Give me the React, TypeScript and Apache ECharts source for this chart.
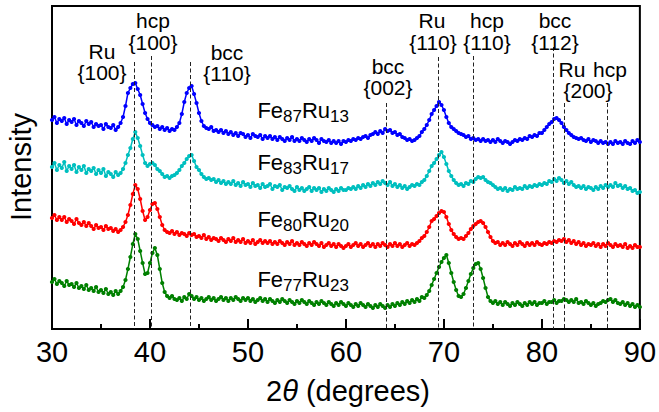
import React, { useEffect, useRef } from "react";
import * as echarts from "echarts";

// 2θ sampling grid (degrees), 0.25° steps from 30 to 90
const thetaStart = 30;
const thetaStep = 0.25;

// Intensities (arbitrary units, offset traces)
const fe87ru13: number[] = [
  209, 212, 206, 210, 208, 211, 205, 209, 207, 210, 204, 208, 206, 203, 208, 205,
  207, 202, 205, 203, 204, 200, 205, 202, 201, 204, 199, 202, 206, 212, 223, 236,
  241, 245, 246, 240, 234, 225, 216, 210, 206, 204, 202, 203, 200, 202, 199, 201,
  198, 200, 199, 202, 206, 215, 227, 236, 241, 243, 235, 226, 216, 208, 203, 201,
  200, 202, 198, 199, 197, 199, 196, 198, 195, 197, 194, 196, 193, 196, 195, 192,
  194, 191, 195, 193, 192, 194, 190, 193, 191, 193, 190, 192, 189, 192, 190, 188,
  191, 189, 192, 188, 190, 188, 191, 189, 187, 190, 188, 191, 189, 186, 190, 188,
  187, 189, 186, 188, 186, 188, 185, 188, 187, 189, 188, 190, 189, 191, 190, 192,
  193, 191, 194, 195, 197, 195, 198, 196, 200, 198, 199, 196, 197, 194, 195, 192,
  191, 189, 190, 188, 189, 191, 193, 197, 200, 204, 209, 215, 219, 223, 227, 224,
  219, 212, 206, 202, 200, 198, 196, 195, 194, 192, 193, 190, 191, 189, 190, 188,
  190, 188, 189, 187, 189, 187, 190, 188, 186, 188, 187, 185, 187, 189, 188, 190,
  189, 191, 190, 193, 192, 194, 193, 196, 196, 199, 202, 205, 207, 210, 211, 209,
  206, 202, 199, 196, 194, 192, 191, 190, 191, 189, 188, 190, 187, 189, 188, 186,
  188, 186, 187, 185, 187, 185, 188, 186, 187, 185, 188, 186, 185, 188, 186, 189,
  187,
];

const fe83ru17: number[] = [
  162, 166, 159, 164, 161, 167, 158, 163, 160, 164, 157, 162, 159, 163, 156, 160,
  158, 161, 155, 159, 156, 160, 153, 157, 155, 152, 157, 154, 156, 160, 166, 174,
  181, 190, 197, 191, 183, 174, 166, 163, 165, 166, 164, 160, 158, 155, 152, 153,
  151, 153, 154, 156, 159, 163, 166, 170, 173, 174, 168, 162, 159, 155, 152, 150,
  151, 149, 150, 147, 149, 146, 148, 145, 147, 145, 148, 144, 146, 143, 147, 144,
  145, 142, 146, 143, 144, 141, 145, 142, 143, 145, 140, 143, 142, 144, 139, 142,
  141, 143, 140, 138, 142, 139, 141, 138, 140, 142, 138, 141, 139, 141, 137, 140,
  138, 141, 139, 137, 140, 138, 141, 139, 139, 141, 140, 142, 140, 143, 141, 144,
  142, 145, 143, 146, 144, 147, 145, 148, 146, 144, 147, 143, 145, 142, 144, 141,
  143, 140, 142, 144, 143, 145, 144, 147, 149, 153, 158, 163, 166, 170, 174, 177,
  172, 165, 158, 153, 149, 146, 144, 145, 143, 146, 145, 148, 147, 150, 152, 151,
  152, 149, 147, 146, 144, 142, 140, 141, 139, 141, 138, 140, 139, 142, 140, 141,
  140, 143, 141, 143, 142, 144, 143, 145, 144, 146, 145, 148, 147, 150, 148, 151,
  149, 146, 148, 145, 147, 144, 142, 143, 141, 143, 140, 142, 141, 139, 142, 140,
  143, 141, 144, 142, 144, 142, 146, 143, 144, 141, 143, 140, 141, 138, 139, 136,
  137,
];

const fe80ru20: number[] = [
  111, 114, 109, 112, 109, 112, 107, 110, 108, 105, 110, 106, 104, 107, 103, 106,
  103, 100, 104, 101, 102, 99, 103, 100, 101, 98, 100, 97, 99, 102, 107, 114,
  124, 135, 144, 140, 130, 118, 109, 112, 119, 125, 126, 120, 112, 104, 99, 97,
  96, 98, 95, 97, 94, 96, 95, 93, 96, 94, 95, 92, 93, 91, 94, 90,
  92, 89, 91, 90, 88, 91, 89, 87, 90, 88, 91, 87, 89, 87, 90, 86,
  88, 86, 89, 85, 87, 89, 86, 88, 86, 88, 85, 87, 85, 88, 86, 84,
  87, 85, 88, 84, 86, 84, 87, 85, 83, 86, 84, 87, 85, 83, 86, 82,
  84, 86, 83, 85, 82, 85, 83, 81, 83, 85, 82, 84, 86, 83, 85, 82,
  84, 86, 83, 85, 82, 85, 83, 86, 84, 82, 85, 83, 86, 83, 85, 82,
  84, 86, 83, 85, 84, 86, 88, 91, 93, 97, 102, 108, 110, 113, 116, 118,
  117, 112, 105, 99, 95, 92, 90, 91, 90, 93, 96, 100, 103, 105, 107, 108,
  106, 102, 97, 92, 88, 86, 87, 84, 86, 84, 87, 85, 83, 86, 84, 87,
  85, 83, 86, 84, 86, 84, 87, 85, 84, 86, 85, 87, 86, 88, 87, 89,
  88, 90, 87, 89, 86, 88, 85, 87, 84, 86, 83, 85, 84, 86, 83, 85,
  82, 85, 83, 86, 84, 82, 85, 83, 84, 82, 85, 81, 83, 81, 84, 82,
  82,
];

const fe77ru23: number[] = [
  47, 50, 45, 48, 46, 43, 48, 44, 45, 42, 46, 41, 43, 40, 44, 39,
  41, 38, 42, 37, 39, 36, 40, 35, 37, 34, 38, 35, 38, 42, 49, 60,
  72, 85, 95, 90, 78, 66, 55, 56, 66, 76, 81, 74, 60, 46, 37, 33,
  31, 33, 30, 29, 31, 28, 32, 30, 35, 33, 30, 32, 29, 31, 28, 30,
  32, 29, 31, 28, 30, 32, 29, 31, 28, 31, 29, 32, 30, 28, 31, 29,
  31, 28, 30, 27, 29, 31, 28, 30, 27, 30, 28, 26, 29, 27, 30, 28,
  26, 29, 27, 25, 28, 26, 29, 27, 25, 28, 26, 24, 27, 25, 28, 26,
  24, 27, 25, 23, 26, 24, 27, 25, 23, 26, 24, 22, 25, 23, 26, 24,
  22, 25, 23, 21, 24, 22, 25, 23, 21, 24, 22, 25, 23, 26, 24, 27,
  25, 28, 26, 29, 27, 30, 28, 32, 31, 34, 38, 44, 50, 56, 62, 67,
  71, 74, 66, 56, 47, 39, 33, 32, 35, 41, 48, 55, 61, 65, 66, 60,
  51, 41, 32, 28, 26, 28, 25, 27, 24, 27, 25, 23, 26, 24, 27, 25,
  23, 26, 24, 27, 25, 27, 24, 26, 26, 28, 25, 27, 27, 29, 26, 28,
  28, 30, 29, 27, 29, 27, 30, 26, 27, 25, 28, 26, 24, 26, 23, 25,
  26, 28, 27, 29, 30, 27, 29, 26, 25, 27, 24, 26, 23, 25, 22, 24,
  22,
];

const seriesNames = ["Fe87Ru13", "Fe83Ru17", "Fe80Ru20", "Fe77Ru23"];
const seriesColors = ["#0000ff", "#00bfbf", "#ff0000", "#008000"];
const seriesValues = [fe87ru13, fe83ru17, fe80ru20, fe77ru23];
const seriesSubscripts = [["87", "13"], ["83", "17"], ["80", "20"], ["77", "23"]];

// Reference reflections: position (2θ) and top of the dashed marker (intensity units)
const refPositions = [38.4, 40.1, 44.1, 64.1, 69.45, 72.95, 81.15, 82.3, 86.65];
const refTops = [267, 273, 267, 226, 272, 273, 282, 226, 226];

const xTicks = [30, 40, 50, 60, 70, 80, 90];

const FONT = "'Liberation Sans', Arial, Helvetica, sans-serif";

function measure(text: string, size: number): number {
  const c = document.createElement("canvas").getContext("2d");
  if (!c) return text.length * size * 0.55;
  c.font = `${size}px ${FONT}`;
  return c.measureText(text).width;
}

export default function App() {
  const ref = useRef<HTMLDivElement>(null);

  useEffect(() => {
    document.body.style.margin = "0";
    if (!ref.current) return;
    const chart = echarts.init(ref.current, undefined, { renderer: "svg" });

    const series: any[] = seriesValues.map((vals, k) => ({
      name: seriesNames[k],
      type: "line",
      data: vals.map((v, i) => [thetaStart + i * thetaStep, v]),
      symbol: "circle",
      symbolSize: 4.2,
      showSymbol: true,
      lineStyle: { color: seriesColors[k], width: 1.5 },
      itemStyle: { color: seriesColors[k] },
      z: 3,
    }));

    series.push({
      type: "line",
      data: [],
      z: 1,
      markLine: {
        silent: true,
        symbol: "none",
        animation: false,
        label: { show: false },
        lineStyle: { color: "#222", width: 1, type: [4, 2.5] },
        data: refPositions.map((p, i) => [
          { coord: [p, refTops[i]] },
          { coord: [p, 0] },
        ]),
      },
    });

    const txt = (text: string, x: number, y: number, size = 21, align = "center") => ({
      type: "text",
      x,
      y,
      z: 10,
      style: {
        text,
        fill: "#000",
        font: `${size}px ${FONT}`,
        align,
        verticalAlign: "middle",
      },
    });

    const labelYs = [110.5, 162.5, 219.5, 279.5];
    const NORMAL = 22;
    const SUB = 17;
    const labelRight = 349;

    const seriesLabelGraphics: any[] = [];
    seriesSubscripts.forEach((s, k) => {
      const parts = [
        { t: "Fe", size: NORMAL, dy: 0 },
        { t: s[0], size: SUB, dy: 6 },
        { t: "Ru", size: NORMAL, dy: 0 },
        { t: s[1], size: SUB, dy: 6 },
      ];
      const widths = parts.map((p) => measure(p.t, p.size));
      const total = widths.reduce((a, b) => a + b, 0);
      let x = labelRight - total;
      parts.forEach((p, i) => {
        seriesLabelGraphics.push(txt(p.t, x, labelYs[k] + p.dy, p.size, "left"));
        x += widths[i];
      });
    });

    const graphic: any[] = [
      txt("Ru", 102, 51),
      txt("{100}", 102, 72),
      txt("hcp", 153, 20),
      txt("{100}", 153, 42),
      txt("bcc", 227, 52),
      txt("{110}", 227, 73),
      txt("bcc", 388, 66),
      txt("{002}", 388, 87),
      txt("Ru", 432, 20),
      txt("{110}", 433, 42),
      txt("hcp", 487, 20),
      txt("{110}", 487, 42),
      txt("bcc", 555, 20),
      txt("{112}", 555, 42),
      txt("Ru", 572, 69),
      txt("hcp", 610, 69),
      txt("{200}", 588, 90),
      ...seriesLabelGraphics,
      {
        type: "text",
        x: 21,
        y: 167,
        rotation: Math.PI / 2,
        z: 10,
        style: {
          text: "Intensity",
          fill: "#000",
          font: `29px ${FONT}`,
          align: "center",
          verticalAlign: "middle",
        },
      },
      {
        type: "text",
        x: 348,
        y: 391,
        z: 10,
        style: {
          text: "{a|2}{b|θ}{a| (degrees)}",
          align: "center",
          verticalAlign: "middle",
          fill: "#000",
          rich: {
            a: { fontSize: 29, fontFamily: FONT, fill: "#000" },
            b: { fontSize: 29, fontFamily: FONT, fontStyle: "italic", fill: "#000" },
          },
        },
      },
    ];

    chart.setOption({
      animation: false,
      backgroundColor: "#fff",
      grid: {
        left: 52,
        right: 16,
        top: 6,
        bottom: 83,
        show: true,
        borderColor: "#000",
        borderWidth: 2,
        backgroundColor: "transparent",
      },
      xAxis: {
        type: "value",
        min: 30,
        max: 90,
        interval: 10,
        axisLine: { show: true, lineStyle: { color: "#000", width: 2 } },
        axisTick: { show: true, inside: true, length: 10, lineStyle: { color: "#000", width: 2 } },
        minorTick: { show: true, splitNumber: 2, length: 5, lineStyle: { color: "#000", width: 2 } },
        splitLine: { show: false },
        axisLabel: {
          color: "#000",
          fontSize: 29,
          fontFamily: FONT,
          margin: 8,
          formatter: (v: number) => (xTicks.includes(v) ? String(v) : ""),
        },
      },
      yAxis: {
        type: "value",
        min: 0,
        max: 323,
        axisLine: { show: false },
        axisTick: { show: false },
        axisLabel: { show: false },
        splitLine: { show: false },
      },
      series,
      graphic,
    });

    return () => chart.dispose();
  }, []);

  return <div ref={ref} style={{ width: 659, height: 412 }} />;
}
